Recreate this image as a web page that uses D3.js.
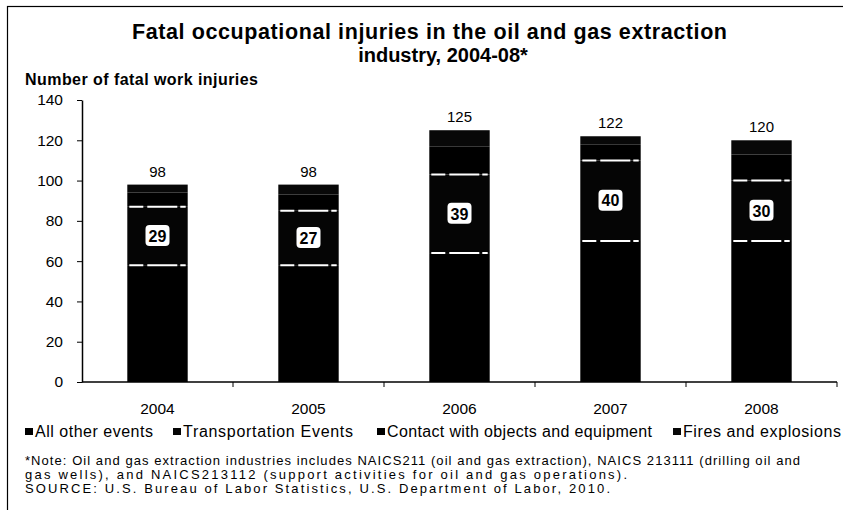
<!DOCTYPE html>
<html>
<head>
<meta charset="utf-8">
<script src="https://cdn.jsdelivr.net/npm/d3@7"></script>
<style>
  body { margin: 0; background: #fff; }
  svg { display: block; font-family: "Liberation Sans", Arial, sans-serif; }
</style>
</head>
<body>
<div id="chart"></div>
<script>
const width = 843;
const height = 510;

const years = ["2004", "2005", "2006", "2007", "2008"];
const seriesNames = ["All other events", "Transportation Events", "Contact with objects and equipment", "Fires and explosions"];
const allOther = [58, 58, 64, 70, 70];
const transportation = [29, 27, 39, 40, 30];
const contact = [7, 8, 14, 8, 13];
const fires = [4, 5, 8, 4, 7];
const totals = [98, 98, 125, 122, 120];
const yTicks = [0, 20, 40, 60, 80, 100, 120, 140];

const table = years.map((y, i) => ({
  year: y,
  "All other events": allOther[i],
  "Transportation Events": transportation[i],
  "Contact with objects and equipment": contact[i],
  "Fires and explosions": fires[i],
  total: totals[i]
}));

const margin = { top: 100, right: 6, bottom: 128, left: 82 };

const svg = d3.select("#chart")
  .append("svg")
  .attr("width", width)
  .attr("height", height);

// outer frame
svg.append("rect")
  .attr("x", 7.5).attr("y", 6.5)
  .attr("width", width).attr("height", height)
  .attr("fill", "none").attr("stroke", "#000").attr("stroke-width", 1.2);

const x = d3.scaleBand()
  .domain(years)
  .range([margin.left, width - margin.right])
  .paddingInner(0.6)
  .paddingOuter(0.3);

const y = d3.scaleLinear()
  .domain([0, 140])
  .range([height - margin.bottom, margin.top]);

const stack = d3.stack().keys(seriesNames);
const layers = stack(table);

const color = d3.scaleOrdinal()
  .domain(seriesNames)
  .range(["#000", "#050505", "#000", "#080808"]);

const g = svg.append("g");

g.selectAll("g.layer")
  .data(layers)
  .join("g")
  .attr("class", "layer")
  .attr("fill", d => color(d.key))
  .selectAll("rect")
  .data(d => d)
  .join("rect")
  .attr("x", d => x(d.data.year))
  .attr("y", d => y(d[1]))
  .attr("width", x.bandwidth())
  .attr("height", d => y(d[0]) - y(d[1]));

// white seams around the transportation segment
const trans = layers[1];
g.selectAll("line.seam")
  .data(trans.flatMap(d => [d[0], d[1]].map(v => ({ year: d.data.year, v }))))
  .join("line")
  .attr("class", "seam")
  .attr("x1", d => x(d.year) + 2)
  .attr("x2", d => x(d.year) + x.bandwidth() - 2)
  .attr("y1", d => y(d.v))
  .attr("y2", d => y(d.v))
  .attr("stroke", "#fff")
  .attr("stroke-width", 2)
  .attr("stroke-dasharray", "14,4,30,3");

// labels for transportation segment
const lab = g.selectAll("g.seglab")
  .data(trans)
  .join("g")
  .attr("class", "seglab")
  .attr("transform", d => `translate(${x(d.data.year) + x.bandwidth() / 2},${y((d[0] + d[1]) / 2)})`);

lab.append("rect")
  .attr("x", -12).attr("y", -11)
  .attr("width", 24).attr("height", 21)
  .attr("rx", 4)
  .attr("fill", "#fff");

lab.append("text")
  .attr("text-anchor", "middle")
  .attr("dy", "0.36em")
  .attr("font-size", 16)
  .attr("font-weight", "bold")
  .text(d => d[1] - d[0]);

// totals above bars
g.selectAll("text.total")
  .data(table)
  .join("text")
  .attr("class", "total")
  .attr("x", d => x(d.year) + x.bandwidth() / 2)
  .attr("y", d => y(d.total) - 8)
  .attr("text-anchor", "middle")
  .attr("font-size", 15)
  .text(d => d.total);

// axes
const yAxis = svg.append("g")
  .attr("transform", `translate(${margin.left},0)`)
  .call(d3.axisLeft(y).tickValues(yTicks).tickSize(5).tickSizeOuter(0));
yAxis.select(".domain").attr("stroke", "#000").attr("stroke-width", 1.5);
yAxis.selectAll("text").attr("font-size", 15.5).attr("fill", "#000").attr("x", -19);

const xAxisY = y(0);
svg.append("line")
  .attr("x1", margin.left).attr("x2", width - margin.right)
  .attr("y1", xAxisY).attr("y2", xAxisY)
  .attr("stroke", "#000").attr("stroke-width", 1.5);

const boundaries = years.slice(1).map(yr => x(yr) - x.step() * x.paddingInner() / 2)
  .concat([width - margin.right]);
svg.selectAll("line.xtick")
  .data(boundaries)
  .join("line")
  .attr("class", "xtick")
  .attr("x1", d => d).attr("x2", d => d)
  .attr("y1", xAxisY).attr("y2", xAxisY + 5)
  .attr("stroke", "#000");

svg.selectAll("text.year")
  .data(years)
  .join("text")
  .attr("class", "year")
  .attr("x", d => x(d) + x.bandwidth() / 2)
  .attr("y", 414)
  .attr("text-anchor", "middle")
  .attr("font-size", 15.5)
  .text(d => d);

// titles
svg.append("text")
  .attr("x", 132).attr("y", 39)
  .attr("textLength", 595)
  .attr("font-size", 21.5).attr("font-weight", "bold")
  .text("Fatal occupational injuries in the oil and gas extraction");
svg.append("text")
  .attr("x", 443).attr("y", 62)
  .attr("text-anchor", "middle")
  .attr("font-size", 20).attr("font-weight", "bold")
  .text("industry, 2004-08*");

svg.append("text")
  .attr("x", 25).attr("y", 85)
  .attr("textLength", 233)
  .attr("font-size", 16).attr("font-weight", "bold")
  .text("Number of fatal work injuries");

// legend
const legendX = [25, 173, 377, 673];
const legendLen = [118, 170, 265, 158];
const leg = svg.selectAll("g.legend")
  .data(seriesNames)
  .join("g")
  .attr("class", "legend")
  .attr("transform", (d, i) => `translate(${legendX[i]},437)`);
leg.append("rect")
  .attr("x", 0).attr("y", -9)
  .attr("width", 8).attr("height", 7)
  .attr("fill", d => color(d));
leg.append("text")
  .attr("x", 10)
  .attr("font-size", 16)
  .attr("textLength", (d, i) => legendLen[i])
  .text(d => d);

// notes
const notes = [
  "*Note: Oil and gas extraction industries includes NAICS211 (oil and gas extraction), NAICS 213111 (drilling oil and",
  "gas wells), and NAICS213112 (support activities for oil and gas operations).",
  "SOURCE: U.S. Bureau of Labor Statistics, U.S. Department of Labor, 2010."
];
const noteLen = [775, 602, 585];
svg.selectAll("text.note")
  .data(notes)
  .join("text")
  .attr("class", "note")
  .attr("x", 25)
  .attr("y", (d, i) => 465 + i * 14)
  .attr("font-size", 13)
  .attr("textLength", (d, i) => noteLen[i])
  .text(d => d);
</script>
</body>
</html>
